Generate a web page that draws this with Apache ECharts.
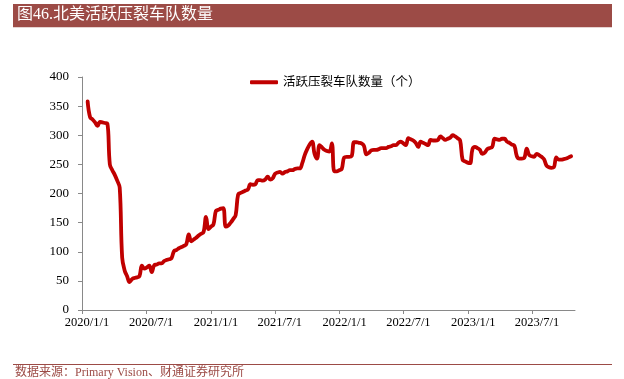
<!DOCTYPE html>
<html>
<head>
<meta charset="utf-8">
<script src="https://cdn.jsdelivr.net/npm/echarts@6/dist/echarts.min.js"></script>
<style>
html, body { margin: 0; padding: 0; background: #fff; }
#chart { width: 624px; height: 379px; }
</style>
</head>
<body>
<div id="chart"></div>
<script>
// 周度数据，起始日期为 2020/1/17，每周一个点
var startDate = '2020/1/17';
var fleetCount = [
    358, 331, 327, 322, 316, 323, 322, 321, 320, 250,
    240, 232, 222, 210, 90, 68, 58, 48, 53, 55,
    56, 58, 76, 71, 73, 76, 65, 77, 78, 80,
    80, 84, 86, 87, 89, 101, 103, 106, 108, 110,
    113, 130, 118, 121, 124, 128, 131, 134, 160, 139,
    143, 147, 170, 172, 174, 175, 143, 145, 150, 156,
    163, 198, 201, 203, 205, 207, 216, 215, 216, 223,
    223, 222, 224, 229, 224, 226, 234, 236, 237, 234,
    237, 238, 240, 240, 242, 243, 243, 252, 266, 276,
    284, 289, 268, 260, 283, 279, 275, 273, 272, 286,
    238, 238, 240, 242, 262, 263, 263, 264, 288, 288,
    287, 286, 282, 267, 270, 274, 275, 275, 276, 278,
    278, 278, 280, 281, 283, 283, 287, 289, 286, 283,
    295, 293, 291, 287, 280, 289, 287, 285, 283, 292,
    291, 291, 292, 298, 295, 292, 294, 296, 300, 298,
    295, 291, 258, 255, 253, 252, 276, 280, 278, 275,
    268, 270, 276, 278, 280, 294, 293, 292, 294, 294,
    289, 287, 284, 282, 264, 260, 260, 261, 277, 266,
    264, 263, 268, 266, 263, 259, 248, 245, 244, 245,
    262, 258, 258, 259, 260, 262, 264
];
var xTickLabels = ['2020/1/1', '2020/7/1', '2021/1/1', '2021/7/1', '2022/1/1', '2022/7/1', '2023/1/1', '2023/7/1'];
var xAxisEnd = '2023/10/31';
var yTicks = [0, 50, 100, 150, 200, 250, 300, 350, 400];
var seriesName = '活跃压裂车队数量（个）';

// 日期换算成距 2020/1/1 的天数
function toDay(s) {
    var p = s.split('/');
    return Math.round((Date.UTC(+p[0], +p[1] - 1, +p[2]) - Date.UTC(2020, 0, 1)) / 86400000);
}

var day0 = toDay(startDate);
var seriesData = fleetCount.map(function (v, i) {
    return [day0 + 7 * i, v];
});
var tickDays = xTickLabels.map(toDay);

var serif = '"Liberation Serif", "Times New Roman", "Noto Sans CJK SC", serif';
var brown = '#9C4B46';
var lineRed = '#C00000';

var myChart = echarts.init(document.getElementById('chart'));

var option = {
    animation: false,
    textStyle: { fontFamily: serif },
    graphic: [
        { type: 'rect', shape: { x: 13, y: 4, width: 599, height: 23 }, style: { fill: brown } },
        { type: 'rect', shape: { x: 13, y: 27, width: 599, height: 1 }, style: { fill: '#E6D3D1' } },
        { type: 'text', left: 17, top: 7, style: { text: '图46.北美活跃压裂车队数量', fill: '#fff', font: '16px ' + serif } },
        { type: 'rect', shape: { x: 13, y: 364, width: 599, height: 1 }, style: { fill: brown } },
        { type: 'text', left: 15, top: 367, style: { text: '数据来源：Primary Vision、财通证券研究所', fill: brown, font: '12px ' + serif } }
    ],
    legend: {
        data: [{ name: seriesName, icon: 'roundRect' }],
        left: 245,
        top: 71,
        itemWidth: 28,
        itemHeight: 4,
        itemGap: 6,
        itemStyle: { color: lineRed },
        textStyle: { fontFamily: serif, fontSize: 12.5, color: '#000' }
    },
    grid: { left: 82, right: 49, top: 77, bottom: 69 },
    xAxis: {
        type: 'value',
        min: 0,
        max: toDay(xAxisEnd),
        splitLine: { show: false },
        axisLine: { lineStyle: { color: '#898989', width: 1 } },
        axisTick: { show: true, length: 4, lineStyle: { color: '#898989' }, customValues: tickDays },
        axisLabel: {
            customValues: tickDays,
            color: '#000',
            fontFamily: serif,
            fontSize: 12.5,
            margin: 6,
            padding: [0, 0, 0, 10],
            formatter: function (val) {
                var i = tickDays.indexOf(val);
                return i >= 0 ? xTickLabels[i] : '';
            }
        }
    },
    yAxis: {
        type: 'value',
        min: yTicks[0],
        max: yTicks[yTicks.length - 1],
        interval: 50,
        splitLine: { show: false },
        axisLine: { show: true, lineStyle: { color: '#898989', width: 1 } },
        axisTick: { show: true, length: 4, lineStyle: { color: '#898989' } },
        axisLabel: { color: '#000', fontFamily: serif, fontSize: 13, margin: 13 }
    },
    series: [
        {
            name: seriesName,
            type: 'line',
            data: seriesData,
            smooth: 0.4,
            showSymbol: false,
            symbol: 'none',
            lineStyle: { color: lineRed, width: 3.8, cap: 'round', join: 'round' },
            itemStyle: { color: lineRed }
        }
    ]
};

myChart.setOption(option);
window.onresize = function () {
    myChart.resize();
};
</script>
</body>
</html>
